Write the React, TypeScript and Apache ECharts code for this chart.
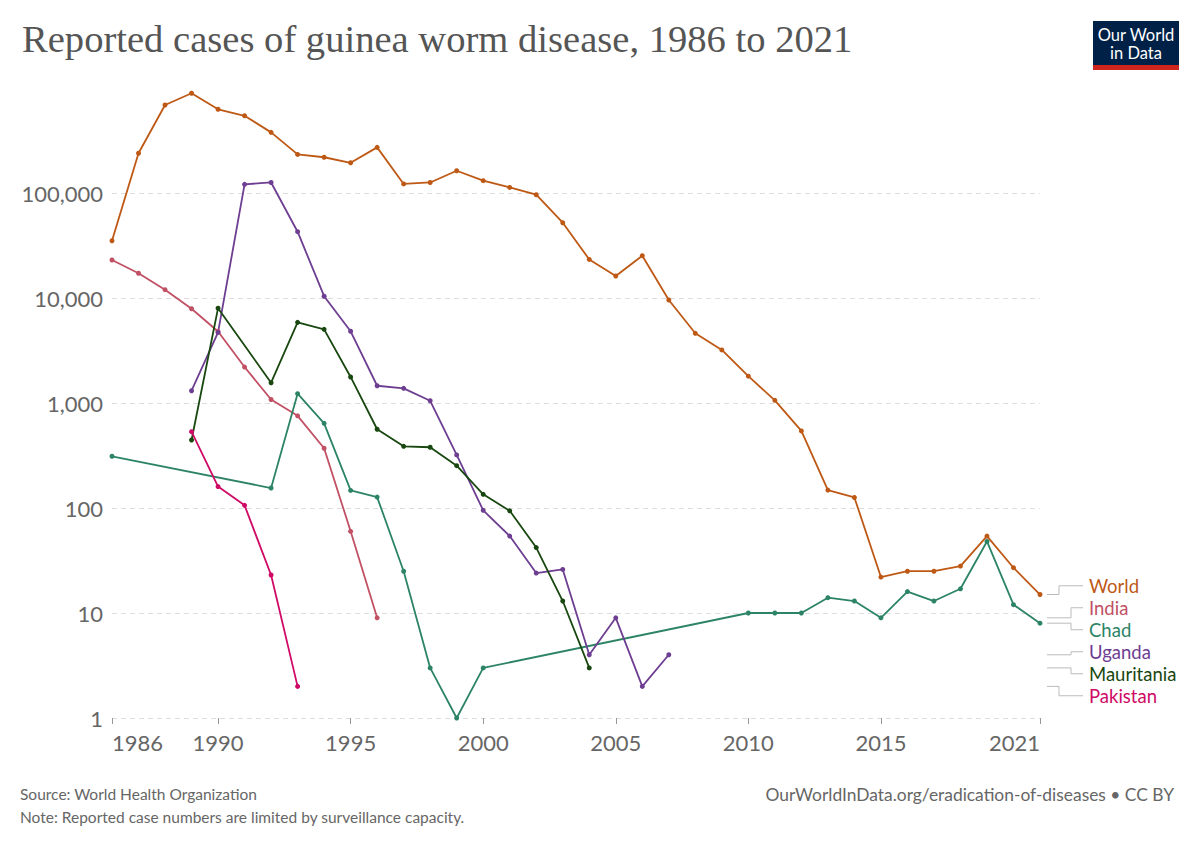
import React, { useEffect, useRef } from 'react';
import * as echarts from 'echarts';

// values (reported cases per year)
const worldYears = [1986, 1987, 1988, 1989, 1990, 1991, 1992, 1993, 1994, 1995, 1996, 1997, 1998, 1999, 2000, 2001, 2002, 2003, 2004, 2005, 2006, 2007, 2008, 2009, 2010, 2011, 2012, 2013, 2014, 2015, 2016, 2017, 2018, 2019, 2020, 2021];
const worldCases = [35100, 239000, 689000, 892000, 627000, 544000, 378000, 233000, 219000, 194000, 272000, 122000, 126000, 163000, 131000, 113000, 96300, 52100, 23300, 16200, 25300, 9570, 4610, 3200, 1800, 1060, 542, 148, 126, 22, 25, 25, 28, 54, 27, 15];

const indiaYears = [1986, 1987, 1988, 1989, 1990, 1991, 1992, 1993, 1994, 1995, 1996];
const indiaCases = [23000, 17200, 12000, 7900, 4800, 2200, 1080, 755, 371, 60, 9];

const chadYears = [1986, 1992, 1993, 1994, 1995, 1996, 1997, 1998, 1999, 2000, 2010, 2011, 2012, 2013, 2014, 2015, 2016, 2017, 2018, 2019, 2020, 2021];
const chadCases = [311, 155, 1227, 640, 147, 127, 25, 3, 1, 3, 10, 10, 10, 14, 13, 9, 16, 13, 17, 48, 12, 8];

const ugandaYears = [1989, 1990, 1991, 1992, 1993, 1994, 1995, 1996, 1997, 1998, 1999, 2000, 2001, 2002, 2003, 2004, 2005, 2006, 2007];
const ugandaCases = [1309, 4700, 121000, 126000, 42800, 10400, 4820, 1460, 1380, 1050, 320, 95, 54, 24, 26, 4, 9, 2, 4];

const mauritaniaYears = [1989, 1990, 1992, 1993, 1994, 1995, 1996, 1997, 1998, 1999, 2000, 2001, 2002, 2003, 2004];
const mauritaniaCases = [444, 8000, 1560, 5860, 5030, 1770, 562, 387, 379, 253, 135, 94, 42, 13, 3];

const pakistanYears = [1989, 1990, 1991, 1992, 1993];
const pakistanCases = [533, 160, 106, 23, 2];

const xTickYears = [1986, 1990, 1995, 2000, 2005, 2010, 2015, 2021];

const seriesList = [
  { name: 'World', years: worldYears, cases: worldCases, color: '#BE5915' },
  { name: 'India', years: indiaYears, cases: indiaCases, color: '#C15065' },
  { name: 'Chad', years: chadYears, cases: chadCases, color: '#2C8465' },
  { name: 'Uganda', years: ugandaYears, cases: ugandaCases, color: '#6D3E91' },
  { name: 'Mauritania', years: mauritaniaYears, cases: mauritaniaCases, color: '#18470F' },
  { name: 'Pakistan', years: pakistanYears, cases: pakistanCases, color: '#CF0A66' },
];

const FONT = 'Lato, "Noto Sans", sans-serif';

const App: React.FC = () => {
  const chartRef = useRef<HTMLDivElement>(null);

  useEffect(() => {
    if (!chartRef.current) return;
    const chart = echarts.init(chartRef.current, undefined, { renderer: 'svg' });

    const option: echarts.EChartsOption = {
      animation: false,
      backgroundColor: '#fff',
      grid: { left: 112, right: 160, top: 88, bottom: 129, containLabel: false },
      xAxis: {
        type: 'value',
        min: 1986,
        max: 2021,
        splitLine: { show: false },
        axisLine: { show: false },
        axisTick: {
          show: true,
          customValues: xTickYears,
          length: 6,
          lineStyle: { color: '#999' },
        },
        axisLabel: {
          customValues: xTickYears,
          fontSize: 22,
          color: '#666',
          fontFamily: FONT,
          margin: 13,
          alignMinLabel: 'left',
          alignMaxLabel: 'right',
          formatter: (v: number) => String(v),
        },
      } as any,
      yAxis: {
        type: 'log',
        logBase: 10,
        min: 1,
        max: 1000000,
        axisLine: { show: false },
        axisTick: { show: false },
        splitLine: {
          show: true,
          showMaxLine: false,
          lineStyle: { color: '#ddd', type: [5, 4], width: 1 },
        },
        axisLabel: {
          fontSize: 22,
          color: '#666',
          fontFamily: FONT,
          margin: 9,
          showMaxLabel: false,
          formatter: (v: number) => (v >= 1000000 ? '' : Math.round(v).toLocaleString('en-US')),
        },
      } as any,
      series: seriesList.map((s) => ({
        name: s.name,
        type: 'line',
        data: s.years.map((y, i) => [y, s.cases[i]]),
        symbol: 'circle',
        symbolSize: 5,
        showSymbol: true,
        color: s.color,
        lineStyle: { width: 1.8, color: s.color },
        itemStyle: { color: s.color },
      })),
    };

    chart.setOption(option);

    // end-of-line labels with elbow connectors
    const startX = 1200 - 160 + 7;
    const labelX = 1089;
    const ends = seriesList
      .map((s) => {
        const last = s.years.length - 1;
        const pt = chart.convertToPixel({ gridIndex: 0 }, [s.years[last], s.cases[last]]) as number[];
        return { name: s.name, color: s.color, y: pt[1] };
      })
      .sort((a, b) => a.y - b.y);
    const step = 22;
    const mean = ends.reduce((acc, e) => acc + e.y, 0) / ends.length;
    const elbowOffsets = [12, 24, 24, 24, 24, 12];

    const legendGraphics: any[] = [];
    ends.forEach((e, i) => {
      const ly = mean + (i - (ends.length - 1) / 2) * step;
      const ex = startX + elbowOffsets[i];
      legendGraphics.push({
        type: 'polyline',
        shape: { points: [[startX, e.y], [ex, e.y], [ex, ly], [labelX - 6, ly]] },
        style: { stroke: '#bbb', lineWidth: 1, fill: null },
        silent: true,
      });
      legendGraphics.push({
        type: 'text',
        x: labelX,
        y: ly,
        style: {
          text: e.name,
          fill: e.color,
          font: `18.5px ${FONT}`,
          textVerticalAlign: 'middle',
        },
      });
    });

    chart.setOption({
      graphic: [
        {
          type: 'text',
          x: 22,
          y: 39,
          style: {
            text: 'Reported cases of guinea worm disease, 1986 to 2021',
            fill: '#555',
            font: '38.6px "Liberation Serif", "DejaVu Serif", serif',
            textVerticalAlign: 'middle',
          },
        },
        // logo
        { type: 'rect', shape: { x: 1093, y: 21, width: 86, height: 49 }, style: { fill: '#002147' } },
        { type: 'rect', shape: { x: 1093, y: 65, width: 86, height: 5 }, style: { fill: '#CE261E' } },
        {
          type: 'text',
          x: 1136,
          y: 35,
          style: { text: 'Our World', fill: '#fff', font: `16.5px ${FONT}`, textAlign: 'center', textVerticalAlign: 'middle' },
        },
        {
          type: 'text',
          x: 1136,
          y: 53,
          style: { text: 'in Data', fill: '#fff', font: `16.5px ${FONT}`, textAlign: 'center', textVerticalAlign: 'middle' },
        },
        // footer
        {
          type: 'text',
          x: 20,
          y: 794,
          style: { text: 'Source: World Health Organization', fill: '#666', font: `15.5px ${FONT}`, textVerticalAlign: 'middle' },
        },
        {
          type: 'text',
          x: 20,
          y: 817,
          style: {
            text: 'Note: Reported case numbers are limited by surveillance capacity.',
            fill: '#666',
            font: `15.5px ${FONT}`,
            textVerticalAlign: 'middle',
          },
        },
        {
          type: 'text',
          x: 1174,
          y: 794,
          style: {
            text: 'OurWorldInData.org/eradication-of-diseases • CC BY',
            fill: '#666',
            font: `17.4px ${FONT}`,
            textAlign: 'right',
            textVerticalAlign: 'middle',
          },
        },
        ...legendGraphics,
      ],
    });

    return () => {
      chart.dispose();
    };
  }, []);

  return (
    <div
      ref={chartRef}
      style={{ position: 'absolute', left: 0, top: 0, width: '1200px', height: '847px' }}
    />
  );
};

export default App;
